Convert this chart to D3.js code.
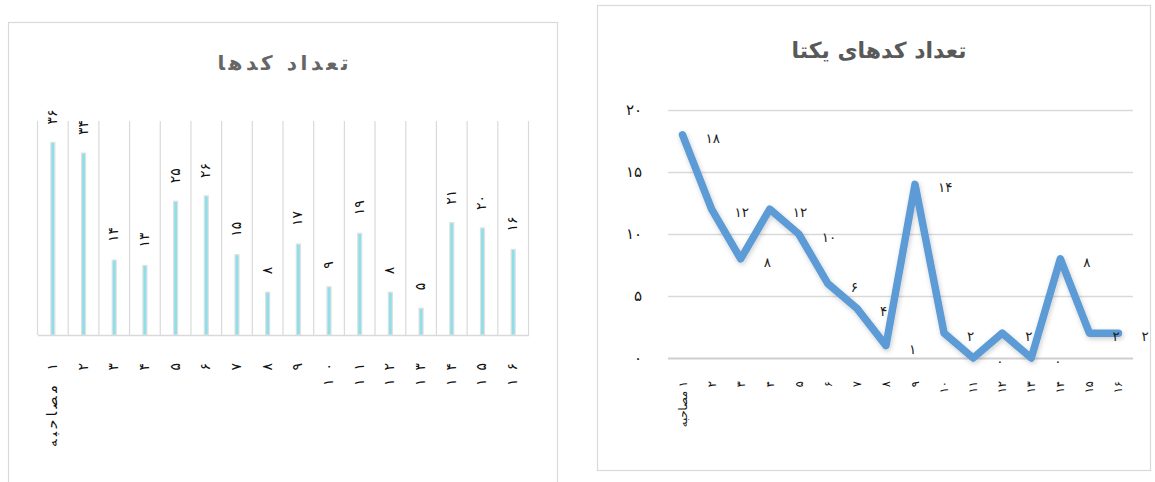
<!DOCTYPE html>
<html lang="fa">
<head>
<meta charset="utf-8">
<script src="https://cdn.jsdelivr.net/npm/d3@7/dist/d3.min.js"></script>
<style>
  html, body { margin: 0; padding: 0; background: #ffffff; }
  svg { display: block; font-family: "DejaVu Sans", sans-serif; }
</style>
</head>
<body>
<svg id="chart" width="1155" height="482"></svg>
<script>
// Interview labels (shared by both charts)
const categories = ["مصاحبه\u200E ۱", "۲", "۳", "۴", "۵", "۶", "۷", "۸", "۹", "۱۰", "۱۱", "۱۲", "۱۳", "۱۴", "۱۵", "۱۶"];
// Number of codes per interview
const codeCounts = [36, 34, 14, 13, 25, 26, 15, 8, 17, 9, 19, 8, 5, 21, 20, 16];
// Number of unique codes per interview
const uniqueCodeCounts = [18, 12, 8, 12, 10, 6, 4, 1, 14, 2, 0, 2, 0, 8, 2, 2];
// Value-axis ticks of the unique-codes chart
const uniqueTicks = [0, 5, 10, 15, 20];
const barTitle = "تعداد کدها";
const lineTitle = "تعداد کدهای یکتا";

const faDigits = "۰۱۲۳۴۵۶۷۸۹";
const fa = v => String(v).replace(/\d/g, d => faDigits[+d]);

const svg = d3.select("#chart");

// ---------- Left: column chart (spaced-out lettering) ----------
const left = svg.append("g");
left.append("rect")
  .attr("x", 8.5).attr("y", 22.5).attr("width", 549).attr("height", 470)
  .attr("fill", "#fff").attr("stroke", "#d9d9d9").attr("stroke-width", 1.2);

left.append("text")
  .attr("x", 283).attr("y", 63)
  .attr("text-anchor", "middle").attr("dominant-baseline", "central")
  .attr("font-size", 20).attr("font-weight", "bold")
  .attr("textLength", 131).attr("lengthAdjust", "spacing")
  .attr("fill", "#666666")
  .text(barTitle);

const xBar = d3.scaleBand().domain(d3.range(categories.length)).range([37.5, 528.5]);
const yBar = d3.scaleLinear().domain([0, 40]).range([335, 121]);

// category gridlines
left.append("g").selectAll("line")
  .data(d3.range(categories.length + 1))
  .join("line")
  .attr("x1", i => i < categories.length ? xBar(i) : xBar.range()[1])
  .attr("x2", i => i < categories.length ? xBar(i) : xBar.range()[1])
  .attr("y1", yBar(40)).attr("y2", yBar(0))
  .attr("stroke", "#d9d9d9").attr("stroke-width", 1.2);

const barW = 4;
left.append("g").selectAll("rect")
  .data(codeCounts)
  .join("rect")
  .attr("x", (d, i) => xBar(i) + xBar.bandwidth() / 2 - barW / 2)
  .attr("y", d => yBar(d))
  .attr("width", barW)
  .attr("height", d => yBar(0) - yBar(d))
  .attr("fill", "#8de0e9")
  .attr("stroke", "#e0e0e0").attr("stroke-width", 1.2);

// value labels above the columns
left.append("g").selectAll("text")
  .data(codeCounts)
  .join("text")
  .attr("transform", (d, i) => `translate(${xBar(i) + xBar.bandwidth() / 2 - 1},${yBar(d) - 18}) rotate(-90)`)
  .attr("text-anchor", "start").attr("dominant-baseline", "central")
  .attr("font-size", 14).attr("fill", "#111")
  .text(d => fa(d));

const xAxisBar = left.append("g")
  .attr("transform", `translate(0,${yBar(0)})`)
  .call(d3.axisBottom(xBar).tickSize(0).tickFormat(i => categories[i]));
xAxisBar.select(".domain").attr("stroke", "#d9d9d9").attr("stroke-width", 1.6);
xAxisBar.selectAll("text")
  .attr("x", 0).attr("y", 0).attr("dy", null)
  .attr("transform", "translate(-1,28) rotate(-90)")
  .attr("text-anchor", "end").attr("dominant-baseline", "central")
  .attr("font-size", 14).attr("fill", "#111")
  .attr("font-family", "DejaVu Sans, sans-serif")
  .each(function(i) {
    const label = categories[i];
    if (i === 0) {
      d3.select(this).attr("textLength", 84).attr("lengthAdjust", "spacing");
    } else if (label.length > 1) {
      d3.select(this).attr("textLength", 23).attr("lengthAdjust", "spacing");
    }
  });

// ---------- Right: line chart ----------
const right = svg.append("g");
right.append("rect")
  .attr("x", 597.5).attr("y", 5.5).attr("width", 553).attr("height", 465)
  .attr("fill", "#fff").attr("stroke", "#d9d9d9").attr("stroke-width", 1.2);

right.append("text")
  .attr("x", 879).attr("y", 50)
  .attr("text-anchor", "middle").attr("dominant-baseline", "central")
  .attr("font-size", 22).attr("font-weight", "bold")
  .attr("fill", "#595959")
  .text(lineTitle);

const xLine = d3.scaleBand().domain(d3.range(categories.length)).range([668, 1133]);
const yLine = d3.scaleLinear().domain([0, 20]).range([358, 110]);
const cx = i => xLine(i) + xLine.bandwidth() / 2;

const yAxisLine = right.append("g")
  .attr("transform", "translate(668,0)")
  .call(d3.axisLeft(yLine).tickValues(uniqueTicks).tickFormat(fa)
    .tickSize(-(1133 - 668)).tickPadding(26));
yAxisLine.select(".domain").remove();
yAxisLine.selectAll("line")
  .attr("stroke", d => d === 0 ? "#cfcfcf" : "#d9d9d9")
  .attr("stroke-width", d => d === 0 ? 2.2 : 1.5);
yAxisLine.selectAll("text")
  .attr("font-size", 15).attr("fill", "#111")
  .attr("font-family", "DejaVu Sans, sans-serif");

const defs = svg.append("defs");
const shadow = defs.append("filter").attr("id", "lineShadow")
  .attr("x", "-10%").attr("y", "-10%").attr("width", "120%").attr("height", "120%");
shadow.append("feDropShadow")
  .attr("dx", 1).attr("dy", 2).attr("stdDeviation", 2.5)
  .attr("flood-color", "#000").attr("flood-opacity", 0.2);

const line = d3.line().x((d, i) => cx(i)).y(d => yLine(d));
right.append("path")
  .datum(uniqueCodeCounts)
  .attr("d", line)
  .attr("fill", "none")
  .attr("stroke", "#5b9bd5").attr("stroke-width", 7.5)
  .attr("stroke-linejoin", "round").attr("stroke-linecap", "round")
  .attr("filter", "url(#lineShadow)");

right.append("g").selectAll("text")
  .data(uniqueCodeCounts)
  .join("text")
  .attr("x", (d, i) => cx(i) + 23)
  .attr("y", d => yLine(d) + 3)
  .attr("text-anchor", "start").attr("dominant-baseline", "central")
  .attr("font-size", 13.5).attr("fill", "#222")
  .text(d => fa(d));

const xAxisLine = right.append("g")
  .attr("transform", `translate(0,${yLine(0)})`)
  .call(d3.axisBottom(xLine).tickSize(0).tickFormat(i => categories[i]));
xAxisLine.select(".domain").remove();
xAxisLine.selectAll("text")
  .attr("x", 0).attr("y", 0).attr("dy", null)
  .attr("transform", "translate(0,23) rotate(-90)")
  .attr("text-anchor", "end").attr("dominant-baseline", "central")
  .attr("font-size", 11.5).attr("fill", "#111")
  .attr("font-family", "DejaVu Sans, sans-serif");
</script>
</body>
</html>
